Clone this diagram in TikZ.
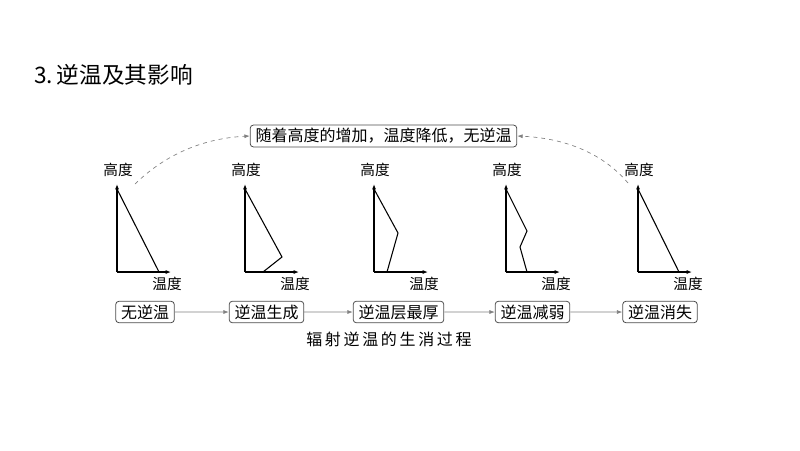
\documentclass[tikz,border=0pt]{standalone}
\usepackage{fontspec}
\setmainfont{Noto Sans CJK SC}
\usetikzlibrary{arrows.meta}
\begin{document}
\begin{tikzpicture}[x=1pt,y=-1pt,
  bx/.style={draw=black!70,rounded corners=2.5pt,inner xsep=4pt,inner ysep=2.5pt,font=\fontsize{12}{12}\selectfont,line width=0.6pt},
  ax/.style={-{Latex[length=4pt,width=3pt]},line width=0.8pt},
  cv/.style={line width=0.8pt},
  lb/.style={font=\fontsize{11}{11}\selectfont,inner sep=0pt},
  flow/.style={-{Latex[length=4pt,width=3pt]},draw=black!50,line width=0.5pt},
  dsh/.style={-{Latex[length=4pt,width=3pt]},draw=black!50,dashed,line width=0.5pt}]
\useasboundingbox (0,0) rectangle (600,337.5);
\begin{scope}[scale=0.75]
\node[anchor=west,font=\fontsize{17}{17}\selectfont,inner sep=0pt] (title) at (34,75) {3.\,逆温及其影响};
\node[bx] (top) at (383.5,136) {随着高度的增加，温度降低，无逆温};
\node[bx] (b1) at (145,312) {无逆温};
\node[bx] (b2) at (266.5,312) {逆温生成};
\node[bx] (b3) at (398.5,312) {逆温层最厚};
\node[bx] (b4) at (532.5,312) {逆温减弱};
\node[bx] (b5) at (660,312) {逆温消失};
\node[font=\fontsize{12}{12}\selectfont] (cap) at (389,339) {辐\,射\,逆\,温\,的\,生\,消\,过\,程};
\draw[flow] (b1) -- (b2); \draw[flow] (b2) -- (b3); \draw[flow] (b3) -- (b4); \draw[flow] (b4) -- (b5);
\foreach \i/\ox in {1/117,2/245,3/374,4/506,5/638}{
  \coordinate (o\i) at (\ox,272);
  \draw[ax] (o\i) -- ++(0,-88);
  \draw[ax] (o\i) -- ++(54,0);
  \node[lb] (h\i) at (\ox+1,170) {高度};
  \node[lb] (t\i) at (\ox+50,284) {温度};
}
\draw[cv] (117,189) -- (159,272);
\draw[cv] (245,189) -- (282,257) -- (263,272);
\draw[cv] (374,189) -- (398,233) -- (387,272);
\draw[cv] (506,189) -- (527,231) -- (520,247) -- (527,272);
\draw[cv] (638,189) -- (679,272);
\coordinate (s1) at (135,184);
\coordinate (s5) at (628,183);
\draw[dsh] (s1) .. controls (170,150) and (210,138) .. (top.west);
\draw[dsh] (s5) .. controls (600,150) and (560,138) .. (top.east);
\end{scope}
\end{tikzpicture}
\end{document}
